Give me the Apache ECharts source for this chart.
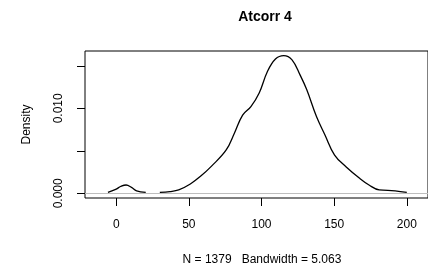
<!DOCTYPE html>
<html>
<head>
<meta charset="utf-8">
<script src="https://cdn.jsdelivr.net/npm/echarts@6/dist/echarts.min.js"></script>
<style>
html, body { margin: 0; padding: 0; background: #fff; }
#main { width: 428px; height: 270px; }
</style>
</head>
<body>
<div id="main"></div>
<script>
// density estimate (null = gap where curve sits on the zero line)
var densX = [-5.7, 0, 3, 6.8, 10.5, 14, 20.3, null, 30, 37, 43, 51, 58, 65.6, 75.7, 81.4, 87, 92.7, 98.4, 104, 109.6, 115.3, 121, 126.6, 131.1, 137.9, 143.6, 150.3, 158.3, 167.3, 174, 181, 192, 200];
var densY = [0.0001, 0.0005, 0.0008, 0.00098, 0.0007, 0.0003, 0.0001, null, 0.0001, 0.0002, 0.0004, 0.0011, 0.002, 0.0032, 0.0051, 0.0071, 0.0092, 0.0102, 0.0118, 0.0143, 0.0158, 0.0162, 0.0157, 0.0139, 0.0122, 0.0090, 0.0069, 0.0045, 0.0031, 0.0018, 0.00098, 0.0004, 0.0003, 0.0001];
var xTicks = [0, 50, 100, 150, 200];
var yTicks = [0, 0.005, 0.010, 0.015];
var yLabels = [0, 0.010];

var chart = echarts.init(document.getElementById('main'));

function buildData() {
    var out = [];
    for (var i = 0; i < densX.length; i++) {
        if (densX[i] === null) {
            out.push([null, null]);
        } else {
            out.push([densX[i], densY[i]]);
        }
    }
    return out;
}

chart.setOption({
    animation: false,
    title: {
        text: 'Atcorr 4',
        left: 260,
        textAlign: 'center',
        top: 5,
        textStyle: { fontFamily: 'Liberation Sans', fontSize: 14, fontWeight: 'bold', color: '#000' }
    },
    grid: {
        left: 85, right: -6, top: 51, bottom: 72,
        show: true, borderColor: '#000', borderWidth: 1
    },
    graphic: [{
        type: 'text',
        x: 262, y: 260,
        style: {
            text: 'N = 1379   Bandwidth = 5.063',
            align: 'center', verticalAlign: 'middle',
            fontFamily: 'Liberation Sans', fontSize: 12, fill: '#000'
        }
    }],
    xAxis: {
        type: 'value',
        min: -21.5, max: 214.6,
        splitLine: { show: false },
        axisLine: { show: false, onZero: false },
        axisTick: { show: true, length: 8, customValues: xTicks, lineStyle: { color: '#000' } },
        axisLabel: {
            customValues: xTicks, margin: 21, color: '#000',
            fontFamily: 'Liberation Sans', fontSize: 12
        }
    },
    yAxis: {
        type: 'value',
        min: -0.00055, max: 0.01674,
        name: 'Density',
        nameLocation: 'middle',
        nameGap: 52,
        nameTextStyle: { fontFamily: 'Liberation Sans', fontSize: 12, color: '#000' },
        splitLine: { show: false },
        axisLine: { show: false, onZero: false },
        axisTick: { show: true, length: 8, customValues: yTicks, lineStyle: { color: '#000' } },
        axisLabel: {
            customValues: yLabels, rotate: 90, margin: 20, color: '#000',
            fontFamily: 'Liberation Sans', fontSize: 12,
            formatter: function(v) { return v.toFixed(3); }
        }
    },
    series: [{
        type: 'line',
        data: buildData(),
        smooth: 0.4,
        connectNulls: false,
        showSymbol: false,
        lineStyle: { color: '#000', width: 1.3 },
        markLine: {
            silent: true,
            symbol: 'none',
            label: { show: false },
            lineStyle: { color: '#bebebe', type: 'solid', width: 1 },
            data: [{ yAxis: 0 }]
        },
        z: 3
    }]
});
</script>
</body>
</html>
